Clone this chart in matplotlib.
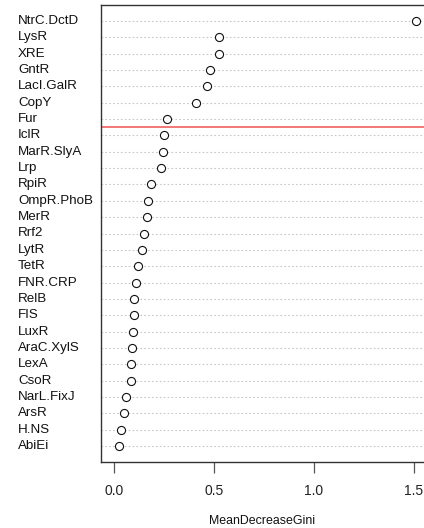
import matplotlib
matplotlib.use("Agg")
import matplotlib.pyplot as plt
import matplotlib.transforms as mtransforms

labels = ["NtrC.DctD", "LysR", "XRE", "GntR", "LacI.GalR", "CopY", "Fur",
          "IclR", "MarR.SlyA", "Lrp", "RpiR", "OmpR.PhoB", "MerR", "Rrf2",
          "LytR", "TetR", "FNR.CRP", "RelB", "FIS", "LuxR", "AraC.XylS",
          "LexA", "CsoR", "NarL.FixJ", "ArsR", "H.NS", "AbiEi"]
values = [1.51, 0.527, 0.523, 0.48, 0.463, 0.41, 0.263,
          0.25, 0.245, 0.235, 0.185, 0.168, 0.167, 0.152,
          0.14, 0.118, 0.108, 0.102, 0.102, 0.097, 0.09,
          0.087, 0.085, 0.058, 0.052, 0.035, 0.025]
cutoff_between = ("Fur", "IclR")
xticks = [0.0, 0.5, 1.0, 1.5]
xlabel = "MeanDecreaseGini"

plt.rcParams['font.family'] = ['Liberation Sans', 'DejaVu Sans']

W, H = 424, 528
fig = plt.figure(figsize=(W / 100, H / 100), dpi=100)
left, right, top, bottom = 101, 428, 5, 462
ax = fig.add_axes([left / W, 1 - bottom / H, (right - left) / W, (bottom - top) / H])

n = len(labels)
ys = [n - i for i in range(n)]
for y in ys:
    ax.axhline(y, color='#C8C8C8', lw=0.8, ls=(0, (1.5, 2)), zorder=1)
ax.scatter(values, ys, s=34, facecolors='white', edgecolors='#111111',
           linewidths=0.8, zorder=3)

i_a = labels.index(cutoff_between[0])
ax.axhline((ys[i_a] + ys[i_a + 1]) / 2, color='#F06060', lw=1.2, zorder=2)

ax.set_xlim(-0.065, 1.57)
ax.set_ylim(0.02, n + 0.98)
ax.set_xticks(xticks)
ax.set_xticklabels([f"{t:.1f}" for t in xticks], fontsize=10, color='#222222')
ax.tick_params(axis='x', length=8, width=0.9, color='#555555', pad=8)
ax.set_yticks([])
trans = mtransforms.blended_transform_factory(fig.transFigure, ax.transData)
for yv, lab in zip(ys, labels):
    ax.text(18 / W, yv, lab, transform=trans,
            ha='left', va='center', fontsize=9.6, color='#111111')
for sp in ['left', 'top', 'bottom', 'right']:
    ax.spines[sp].set_color('#333333')
    ax.spines[sp].set_linewidth(1.0)

fig.text(262 / W, 1 - 521 / H, xlabel, ha='center', va='center',
         fontsize=8.9, color='#111111')

fig.savefig("out.png", dpi=100)
